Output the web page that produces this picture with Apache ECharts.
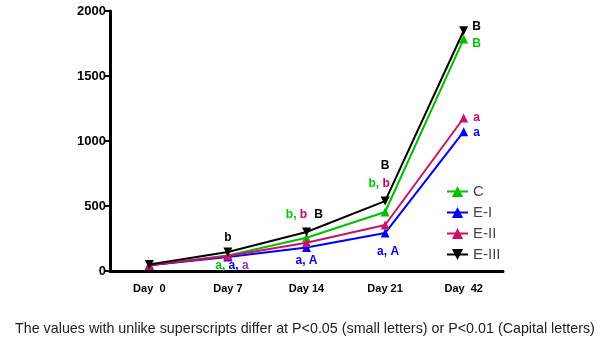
<!DOCTYPE html>
<html><head><meta charset="utf-8">
<script src="https://cdn.jsdelivr.net/npm/echarts@6/dist/echarts.min.js"></script>
<style>html,body{margin:0;padding:0;background:#fff}#c{width:600px;height:343px}</style>
</head><body><div id="c"></div>
<script>
const categories = ['Day  0', 'Day 7', 'Day 14', 'Day 21', 'Day  42'];
const seriesNames = ['C', 'E-I', 'E-II', 'E-III'];
const valuesC = [45, 120, 256, 454, 1785];
const valuesE1 = [45, 108, 180, 292, 1072];
const valuesE2 = [45, 115, 218, 354, 1177];
const valuesE3 = [50, 146, 300, 538, 1848];
const yTicks = [0, 500, 1000, 1500, 2000];
const footnote = 'The values with unlike superscripts differ at P<0.05 (small letters) or P<0.01 (Capital letters)';

const colors = {g: '#00c800', b: '#0000ff', p: '#cc0066', v: '#9933cc', k: '#000000'};
const rich = {};
Object.keys(colors).forEach(k => { rich[k] = {color: colors[k], fontWeight: 'bold', fontSize: 12, fontFamily: 'Liberation Sans'}; });

// point label specs: [seriesIndex][dataIndex] -> {text, offset}
const labelSpec = {
  0: {2: ['{g|b,} {p|b}', [-10, -23]], 3: ['{g|b,} {p|b}', [-6, -28]], 4: ['{g|B}', [13, 5]]},
  1: {1: ['{g|a,} {b|a,} {v|a}', [4, 9]], 2: ['{b|a, A}', [0, 13]], 3: ['{b|a, A}', [3, 19]], 4: ['{b|a}', [13, 1]]},
  2: {4: ['{p|a}', [13, 0]]},
  3: {1: ['{k|b}', [0, -14]], 2: ['{k|B}', [12, -17]], 3: ['{k|B}', [0, -35]], 4: ['{k|B}', [13, -4]]}
};

function buildData(vals, si) {
  return vals.map((v, i) => {
    const s = labelSpec[si] && labelSpec[si][i];
    if (!s) return v;
    return {value: v, label: {show: true, position: 'inside', formatter: s[0], offset: s[1], rich: rich}};
  });
}

const allVals = [valuesC, valuesE1, valuesE2, valuesE3];
const lineColors = ['#00c000', '#0000ff', '#cc1166', '#000000'];
const series = allVals.map((vals, si) => ({
  name: seriesNames[si],
  type: 'line',
  data: buildData(vals, si),
  color: lineColors[si],
  symbol: 'triangle',
  symbolRotate: si === 3 ? 180 : 0,
  symbolSize: 9,
  lineStyle: {width: 2, color: lineColors[si]},
  itemStyle: {color: lineColors[si]},
  z: 2 + si,
  label: {show: false}
}));

const chart = echarts.init(document.getElementById('c'), null, {renderer: 'canvas'});
chart.setOption({
  animation: false,
  backgroundColor: '#ffffff',
  grid: {left: 110, right: 97, top: 11, bottom: 72, containLabel: false},
  title: {text: footnote, left: 10, top: 317, textStyle: {fontSize: 14.3, fontWeight: 'normal', color: '#222', fontFamily: 'Liberation Sans'}},
  legend: {
    orient: 'vertical', left: 441, top: 179, itemWidth: 21, itemHeight: 14, itemGap: 6,
    data: seriesNames,
    textStyle: {fontSize: 15, color: '#444', fontFamily: 'Liberation Sans'}
  },
  xAxis: {
    type: 'category', data: categories, boundaryGap: true,
    axisLine: {lineStyle: {color: '#000', width: 3}},
    axisTick: {show: false},
    axisLabel: {color: '#000', fontWeight: 'bold', fontSize: 11, fontFamily: 'Liberation Sans', margin: 12}
  },
  yAxis: {
    type: 'value', min: yTicks[0], max: yTicks[yTicks.length - 1], interval: 500,
    splitLine: {show: false},
    axisLine: {show: true, lineStyle: {color: '#000', width: 3}},
    axisTick: {show: true, length: 5, lineStyle: {color: '#000', width: 2}},
    axisLabel: {color: '#000', fontWeight: 'bold', fontSize: 13, fontFamily: 'Liberation Sans', margin: 4, formatter: v => String(v)}
  },
  series: series
});
</script></body></html>
